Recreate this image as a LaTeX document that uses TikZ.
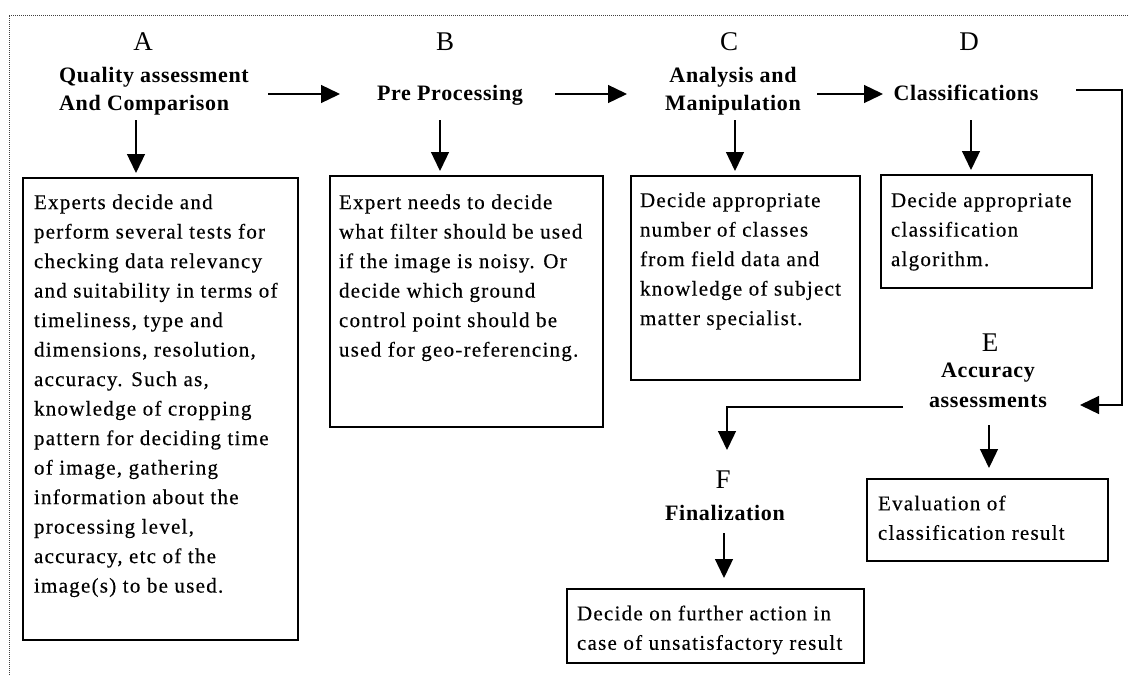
\documentclass[tikz,border=0pt]{standalone}
\usepackage{fontspec}
\setmainfont{Liberation Serif}
\newfontfamily\bodyf[LetterSpace=6,FakeBold=0.3]{Liberation Serif}
\newfontfamily\titlef[LetterSpace=3]{Liberation Serif}
\usetikzlibrary{arrows.meta}
\newcommand\btext[3]{\parbox[t][#2pt][t]{#1pt}{\bodyf\fontsize{21}{29.5}\selectfont #3}}
\newcommand\myl[1]{\mbox{#1}}
\tikzset{
  tbox/.style={draw, line width=1.4pt, inner sep=0pt, outer sep=0pt, anchor=north west},
  letter/.style={font=\fontsize{27}{30}\selectfont, inner sep=0pt},
  ttl/.style={font=\titlef\bfseries\fontsize{22}{28}\selectfont, inner sep=0pt},
  arr/.style={line width=1.3pt, -{Triangle[length=19pt,width=18pt]}},
  framel/.style={line width=0.9pt, black!75, dash pattern=on 1pt off 1pt}
}
\begin{document}
\begin{tikzpicture}[x=1pt,y=-1pt]
\useasboundingbox (0,0) rectangle (1129,675);
% frame
\coordinate (fr1) at (9,675);
\coordinate (fr2) at (9,15);
\coordinate (fr3) at (1129,15);
\draw[framel] (fr1) -- (fr2) -- (fr3);

% letters
\node[letter] (lA) at (143,42) {A};
\node[letter] (lB) at (445,42) {B};
\node[letter] (lC) at (729,42) {C};
\node[letter] (lD) at (969,42) {D};
\node[letter] (lE) at (990,343) {E};
\node[letter] (lF) at (723,480) {F};

% titles
\node[ttl, align=left, anchor=west] (tA) at (59,91) {Quality assessment\\And Comparison};
\node[ttl] (tB) at (450,95) {Pre Processing};
\node[ttl, align=center] (tC) at (733,91) {Analysis and\\Manipulation};
\node[ttl] (tD) at (966,93) {Classifications};
\node[ttl, align=center, font=\titlef\bfseries\fontsize{22}{30}\selectfont] (tE) at (988,385) {Accuracy\\assessments};
\node[ttl] (tF) at (725,513) {Finalization};

% boxes
\node[tbox, minimum width=275pt, minimum height=462pt] (bA) at (23,178) {\btext{253}{429}{%
\myl{Experts decide and}\\
\myl{perform several tests for}\\
\myl{checking data relevancy}\\
\myl{and suitability in terms of}\\
\myl{timeliness, type and}\\
\myl{dimensions, resolution,}\\
\myl{accuracy. Such as,}\\
\myl{knowledge of cropping}\\
\myl{pattern for deciding time}\\
\myl{of image, gathering}\\
\myl{information about the}\\
\myl{processing level,}\\
\myl{accuracy, etc of the}\\
\myl{image(s) to be used.}}};
\node[tbox, minimum width=273pt, minimum height=251pt] (bB) at (330,176) {\btext{255}{214}{%
\myl{Expert needs to decide}\\
\myl{what filter should be used}\\
\myl{if the image is noisy. Or}\\
\myl{decide which ground}\\
\myl{control point should be}\\
\myl{used for geo-referencing.}}};
\node[tbox, minimum width=229pt, minimum height=204pt] (bC) at (631,176) {\btext{211}{171}{%
\myl{Decide appropriate}\\
\myl{number of classes}\\
\myl{from field data and}\\
\myl{knowledge of subject}\\
\myl{matter specialist.}}};
\node[tbox, minimum width=211pt, minimum height=113pt] (bD) at (881,175) {\btext{191}{78}{%
\myl{Decide appropriate}\\
\myl{classification}\\
\myl{algorithm.}}};
\node[tbox, minimum width=241pt, minimum height=82pt] (bE) at (867,479) {\btext{219}{49}{%
\myl{Evaluation of}\\
\myl{classification result}}};
\node[tbox, minimum width=297pt, minimum height=74pt] (bF) at (567,589) {\btext{277}{41}{%
\myl{Decide on further action in}\\
\myl{case of unsatisfactory result}}};

% down arrows
\coordinate (dA) at (136,120);
\coordinate (dB) at (440,120);
\coordinate (dC) at (735,120);
\coordinate (dD) at (971,120);
\coordinate (dE) at (989,425);
\coordinate (dF) at (724,533);
\draw[arr, shorten >=5pt] (dA) -- (dA |- bA.north);
\draw[arr, shorten >=5pt] (dB) -- (dB |- bB.north);
\draw[arr, shorten >=5pt] (dC) -- (dC |- bC.north);
\draw[arr, shorten >=5pt] (dD) -- (dD |- bD.north);
\draw[arr, shorten >=11pt] (dE) -- (dE |- bE.north);
\draw[arr, shorten >=11pt] (dF) -- (dF |- bF.north);

% horizontal arrows
\coordinate (hAB1) at (268,94);
\coordinate (hAB2) at (340,94);
\coordinate (hBC1) at (555,94);
\coordinate (hBC2) at (627,94);
\coordinate (hCD1) at (817,94);
\coordinate (hCD2) at (883,94);
\draw[arr] (hAB1) -- (hAB2);
\draw[arr] (hBC1) -- (hBC2);
\draw[arr] (hCD1) -- (hCD2);

% D to E
\coordinate (hDE1) at (1076,90);
\coordinate (cDE) at (1122,90);
\coordinate (hDE2) at (1080,405);
\draw[arr] (hDE1) -- (cDE) |- (hDE2);

% E to F
\coordinate (hEF1) at (903,407);
\coordinate (hEF2) at (727,450);
\draw[arr] (hEF1) -| (hEF2);
\end{tikzpicture}
\end{document}
